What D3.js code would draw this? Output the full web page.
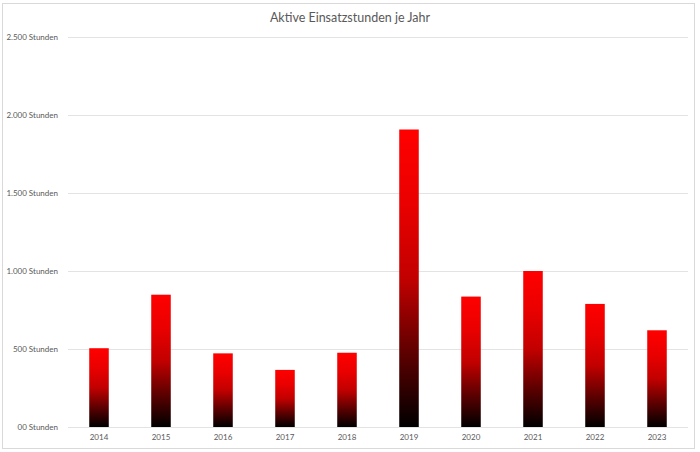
<!DOCTYPE html>
<html>
<head>
<meta charset="utf-8">
<script src="https://cdn.jsdelivr.net/npm/d3@7/dist/d3.min.js"></script>
<style>
  html, body { margin: 0; padding: 0; background: #fff; }
  svg { display: block; }
  text { font-family: Lato, "Open Sans", sans-serif; fill: #595959; }
</style>
</head>
<body>
<svg id="chart" width="700" height="452"></svg>
<script>
const title = "Aktive Einsatzstunden je Jahr";
const years = ["2014","2015","2016","2017","2018","2019","2020","2021","2022","2023"];
const hours = [505, 848, 472, 366, 476, 1907, 836, 1000, 789, 620];
const yTicks = [0, 500, 1000, 1500, 2000, 2500];
const yTickLabels = ["00 Stunden", "500 Stunden", "1.000 Stunden", "1.500 Stunden", "2.000 Stunden", "2.500 Stunden"];

(function () {
const svg = d3.select("#chart");
const plotL = 68, plotR = 688, plotT = 37, plotB = 427;

// outer chart border
svg.append("rect")
  .attr("x", 2.5).attr("y", 3.5)
  .attr("width", 692).attr("height", 445)
  .attr("fill", "#fff")
  .attr("stroke", "#d9d9d9").attr("stroke-width", 1);

const x = d3.scaleBand().domain(years).range([plotL, plotR]).paddingInner(0.685).paddingOuter(0.3425);
const y = d3.scaleLinear().domain([0, 2500]).range([plotB, plotT]);

// gradient
const defs = svg.append("defs");
const grad = defs.append("linearGradient")
  .attr("id", "barGrad")
  .attr("x1", 0).attr("y1", 0).attr("x2", 0).attr("y2", 1);
[[0, "#ff0000"], [0.25, "#ea0000"], [0.5, "#c20000"], [0.75, "#5e0000"], [1, "#000000"]]
  .forEach(([o, c]) => grad.append("stop").attr("offset", o).attr("stop-color", c));

// gridlines
const yAxis = d3.axisLeft(y).tickValues(yTicks)
  .tickSize(-(plotR - plotL))
  .tickPadding(10)
  .tickFormat((d, i) => yTickLabels[i]);
const gy = svg.append("g").attr("transform", `translate(${plotL},0)`).call(yAxis);
gy.attr("font-family", null);
gy.select(".domain").remove();
gy.selectAll(".tick line").attr("stroke", "#e3e3e3").attr("stroke-width", 1);
gy.selectAll(".tick text").attr("font-size", 8).attr("fill", "#595959");

// bars
svg.append("g").selectAll("rect").data(years).join("rect")
  .attr("x", d => x(d))
  .attr("y", (d, i) => y(hours[i]))
  .attr("width", x.bandwidth())
  .attr("height", (d, i) => y(0) - y(hours[i]))
  .attr("fill", "url(#barGrad)");

// x axis labels
const xAxis = d3.axisBottom(x).tickSize(0).tickPadding(7);
const gx = svg.append("g").attr("transform", `translate(0,${plotB})`).call(xAxis);
gx.attr("font-family", null);
gx.select(".domain").remove();
gx.selectAll(".tick text").attr("font-size", 8).attr("fill", "#595959");

// title
svg.append("text")
  .attr("x", 350).attr("y", 21.5)
  .attr("text-anchor", "middle")
  .attr("font-size", 12.5)
  .attr("fill", "#595959")
  .text(title);
})();
</script>
</body>
</html>
